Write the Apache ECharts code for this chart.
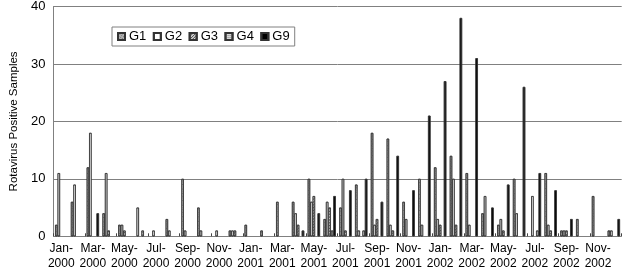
<!DOCTYPE html>
<html>
<head>
<meta charset="utf-8">
<script src="https://cdn.jsdelivr.net/npm/echarts@6/dist/echarts.min.js"></script>
<style>
html,body{margin:0;padding:0;background:#fff;}
#chart{width:624px;height:273px;}
</style>
</head>
<body>
<div id="chart"></div>
<script>
// months Jan-2000 .. Dec-2002
var months=['Jan','Feb','Mar','Apr','May','Jun','Jul','Aug','Sep','Oct','Nov','Dec'];
var years=['2000','2001','2002'];
var categories=[];
for(var y=0;y<years.length;y++){
	for(var m=0;m<months.length;m++){
		categories.push(months[m]+'-'+years[y]);
	}
}

// samples per genotype
var g1=[2,6,12,4,2,0,0,3,10,5,0,1, 2,1,6,6,10,3,5,9,18,17,6,10, 12,14,11,4,2,10,0,11,1,3,7,1];
var g2=[11,9,18,11,2,5,1,1,1,1,1,1, 0,0,0,4,6,6,10,1,2,2,3,2, 3,10,2,7,3,4,7,2,1,0,0,1];
var g3=[0,0,0,1,1,0,0,0,0,0,0,1, 0,0,0,2,7,5,1,0,3,1,0,0, 2,2,0,0,1,0,0,1,1,0,0,0];
var g4=[0,0,0,0,0,1,0,0,0,0,0,0, 0,0,0,0,0,1,0,1,0,0,0,0, 0,0,0,0,0,0,1,0,0,0,0,0];
var g9=[0,0,4,0,0,0,0,0,0,0,0,0, 0,0,0,1,4,7,8,10,6,14,8,21, 27,38,31,5,9,26,11,8,3,0,0,3];

var yTicks={min:0,max:40,interval:10};
var font='"Liberation Sans", Arial, sans-serif';

function bar(name,data,color,decal){
	return {
		name:name,
		type:'bar',
		data:data.map(function(v){return v===0?null:v;}),
		barGap:'0%',
		barCategoryGap:'22%',
		itemStyle:{
			color:color,
			borderColor:'#333',
			borderWidth:0.7,
			decal:decal
		},
		emphasis:{disabled:true}
	};
}

var chart=echarts.init(document.getElementById('chart'),null,{renderer:'canvas'});
var option={
	backgroundColor:'#ffffff',
	animation:false,
	aria:{enabled:true,decal:{show:true}},
	textStyle:{fontFamily:font},
	grid:{left:45.7,right:2.3,top:4.3,bottom:36.7,containLabel:false},
	legend:{
		left:112,
		top:27,
		padding:[3,5,3,5],
		itemWidth:7,
		itemHeight:7,
		itemGap:6.5,
		borderColor:'#808080',
		borderWidth:1,
		backgroundColor:'#fff',
		icon:'rect',
		textStyle:{fontFamily:font,fontSize:13,color:'#000',padding:[0,0,0,-1]},
		data:['G1','G2','G3','G4','G9']
	},
	xAxis:{
		type:'category',
		data:categories,
		axisLine:{show:false},
		axisTick:{show:true,inside:true,interval:1,length:3,lineStyle:{color:'#444'}},
		axisLabel:{
			interval:1,
			margin:5,
			fontSize:12,
			lineHeight:15,
			color:'#000',
			fontFamily:font,
			formatter:function(v){var p=v.split('-');return p[0]+'-\n'+p[1];}
		},
		splitLine:{show:false}
	},
	yAxis:{
		type:'value',
		min:yTicks.min,
		max:yTicks.max,
		interval:yTicks.interval,
		name:'Rotavirus Positive Samples',
		nameLocation:'middle',
		nameGap:33,
		nameTextStyle:{fontSize:11.5,color:'#000',fontFamily:font},
		axisLine:{show:true,lineStyle:{color:'#808080',width:1}},
		axisTick:{show:false},
		axisLabel:{fontSize:13,color:'#000',margin:8,fontFamily:font},
		splitLine:{show:true,lineStyle:{color:'#808080',width:1}}
	},
	series:[
		bar('G1',g1,'#b4b4b4',{symbol:'rect',symbolSize:1,dashArrayX:[1,1],dashArrayY:[1,1],color:'rgba(70,70,70,0.55)'}),
		bar('G2',g2,'#ffffff',{symbol:'none'}),
		bar('G3',g3,'#ffffff',{symbol:'rect',symbolSize:1,dashArrayX:[1,0],dashArrayY:[1,1],color:'#555'}),
		bar('G4',g4,'#d8d8d8',{symbol:'rect',symbolSize:1,dashArrayX:[1,1],dashArrayY:[1,1],color:'#888'}),
		bar('G9',g9,'#000000',{symbol:'none'})
	]
};
chart.setOption(option);
</script>
</body>
</html>
